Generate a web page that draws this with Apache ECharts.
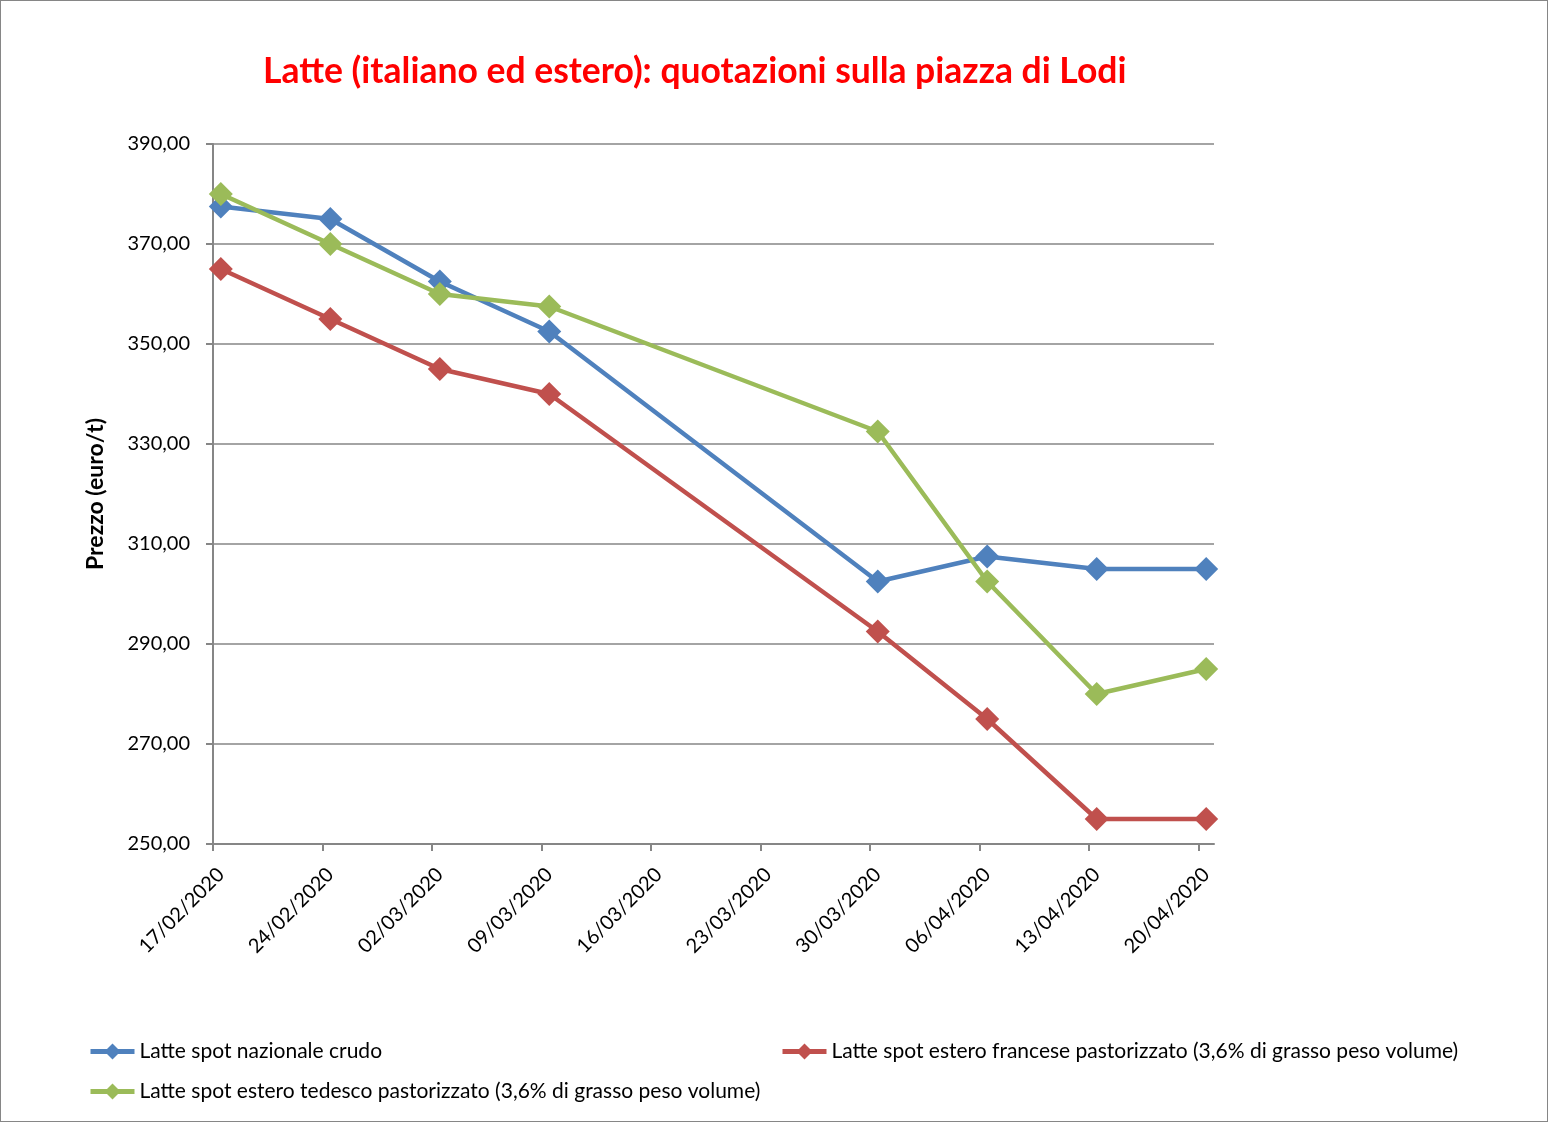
<!DOCTYPE html>
<html>
<head>
<meta charset="utf-8">
<script src="https://cdn.jsdelivr.net/npm/echarts@6/dist/echarts.min.js"></script>
<style>
html,body{margin:0;padding:0;background:#fff;}
#c{width:1548px;height:1122px;box-sizing:border-box;border:1px solid #868686;}
</style>
</head>
<body>
<div id="c"></div>
<script>
const tickLabels = ['17/02/2020','24/02/2020','02/03/2020','09/03/2020','16/03/2020','23/03/2020','30/03/2020','06/04/2020','13/04/2020','20/04/2020'];
const pointDates = ['17/02/2020','24/02/2020','02/03/2020','09/03/2020','30/03/2020','06/04/2020','13/04/2020','20/04/2020'];
const nazionaleCrudo = [377.5, 375, 362.5, 352.5, 302.5, 307.5, 305, 305];
const franceseFast = [365, 355, 345, 340, 292.5, 275, 255, 255];
const tedescoPast = [380, 370, 360, 357.5, 332.5, 302.5, 280, 285];
const seriesNames = ['Latte spot nazionale crudo','Latte spot estero francese pastorizzato (3,6% di grasso peso volume)','Latte spot estero tedesco pastorizzato (3,6% di grasso peso volume)'];
const colors = ['#4F81BD','#C0504D','#9BBB59'];

function dayNum(s){const p=s.split('/');return Date.UTC(+p[2],+p[1]-1,+p[0])/86400000;}
const d0 = dayNum(tickLabels[0]);
const tickDays = tickLabels.map(s=>dayNum(s)-d0);
// Excel date axis: points are centred within their day
function toXY(vals){return vals.map((v,i)=>[dayNum(pointDates[i])-d0+0.5, v]);}

const FONT = 'Lato';
const chart = echarts.init(document.getElementById('c'));
const mkSeries = (i, vals) => ({
  name: seriesNames[i], type:'line', data: toXY(vals),
  symbol:'diamond', symbolSize:24, showSymbol:true,
  lineStyle:{width:4.5, color:colors[i]}, itemStyle:{color:colors[i]},
  animation:false
});
const legendBase = {orient:'horizontal', itemWidth:44, itemHeight:20, itemGap:10, padding:0,
  lineStyle:{width:5},
  textStyle:{fontFamily:FONT, fontSize:21, color:'#000'}, selectedMode:false};
chart.setOption({
  animation:false,
  title:{text:'Latte (italiano ed estero): quotazioni sulla piazza di Lodi', left:257, top:48,
    textStyle:{color:'#FF0000', fontWeight:'bold', fontFamily:FONT, fontSize:35.5}},
  grid:{left:212, right:333, top:143, bottom:277, containLabel:false},
  legend:[
    Object.assign({data:[seriesNames[0]], left:87, top:1040}, legendBase),
    Object.assign({data:[seriesNames[1]], left:779, top:1040}, legendBase),
    Object.assign({data:[seriesNames[2]], left:87, top:1080}, legendBase)
  ],
  xAxis:{type:'value', min:0, max:64, interval:7,
    axisLine:{lineStyle:{color:'#868686', width:2}},
    axisTick:{show:true, length:7, customValues:tickDays, lineStyle:{color:'#868686', width:2}},
    splitLine:{show:false},
    axisLabel:{rotate:45, margin:35, padding:[0,-11,0,0], customValues:tickDays,
      fontFamily:FONT, fontSize:20, color:'#000',
      formatter:(v)=> { const i = tickDays.indexOf(v); return i>=0 ? tickLabels[i] : ''; }}},
  yAxis:{type:'value', min:250, max:390, interval:20,
    name:'Prezzo (euro/t)', nameLocation:'middle', nameGap:106,
    nameTextStyle:{fontFamily:FONT, fontSize:23, fontWeight:'bold', color:'#000'},
    axisLine:{show:true, lineStyle:{color:'#868686', width:2}},
    axisTick:{show:true, length:7, lineStyle:{color:'#868686', width:2}},
    splitLine:{lineStyle:{color:'#868686', width:1.5}},
    axisLabel:{margin:23, fontFamily:FONT, fontSize:20, color:'#000',
      formatter:(v)=>v.toFixed(2).replace('.',',')}},
  series:[mkSeries(0,nazionaleCrudo), mkSeries(1,franceseFast), mkSeries(2,tedescoPast)]
});
</script>
</body>
</html>
